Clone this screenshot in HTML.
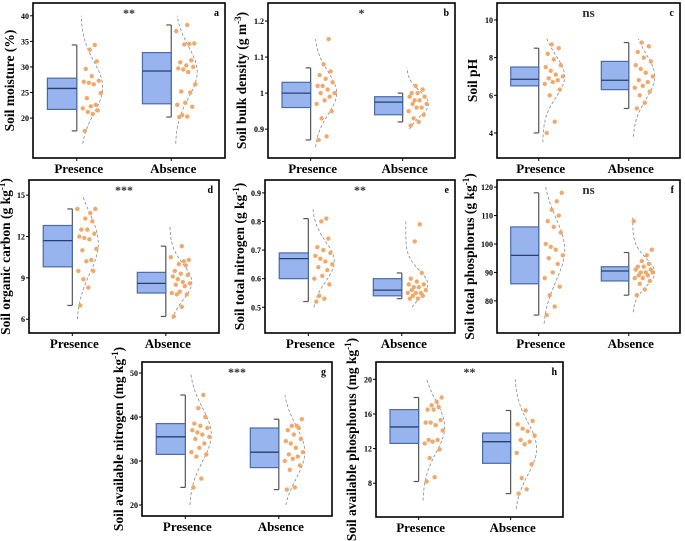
<!DOCTYPE html>
<html><head><meta charset="utf-8"><style>
html,body{margin:0;padding:0;background:#fff}
svg{display:block;font-family:"Liberation Serif",serif}
</style></head><body>
<svg id="fig" width="685" height="541" viewBox="0 0 685 541" xmlns="http://www.w3.org/2000/svg"></svg>
<script>
const groups = ["Presence","Absence"];
const panelIds = ["a","b","c","d","e","f","g","h"];
const sig = ["**","*","ns","***","**","ns","***","**"];
const ticks = {
 a:[20,25,30,35,40], b:[0.9,1.0,1.1,1.2], c:[4,6,8,10], d:[6,9,12,15],
 e:[0.5,0.6,0.7,0.8,0.9], f:[80,90,100,110,120], g:[20,30,40,50], h:[8,12,16,20]
};
// box stats [lo,q1,med,q3,hi] for Presence, Absence
const boxP = {a:[17.5,21.7,25.8,27.8,34.3], b:[0.87,0.96,1.0,1.03,1.07], c:[4.0,6.5,6.85,7.5,8.5], d:[7.0,9.8,11.7,12.8,14.0],
 e:[0.52,0.60,0.67,0.69,0.81], f:[75,86,96,106,118], g:[24,31.5,35.5,38.5,45], h:[8.2,12.6,14.5,16.5,17.9]};
const boxA = {a:[20.2,22.8,29.2,32.8,38.2], b:[0.92,0.94,0.975,0.99,1.0], c:[5.3,6.3,6.8,7.8,8.8], d:[6.2,7.9,8.6,9.4,11.3],
 e:[0.53,0.54,0.56,0.60,0.62], f:[82,87,90.5,92,97], g:[23.5,28.5,32,37.5,39.5], h:[6.8,10.3,12.8,13.8,16.4]};
const ptsP = {
 a:[17.5,20.8,21.2,21.5,21.9,22.3,22.6,23.9,24.9,26.6,26.9,27.1,27.3,28.2,29.6,31.1,33.4,34.3],
 b:[0.87,0.88,0.93,0.95,0.97,0.98,0.99,1.0,1.0,1.01,1.02,1.02,1.03,1.04,1.05,1.06,1.08,1.15],
 c:[4.0,4.6,6.0,6.3,6.6,6.7,6.8,6.9,7.0,7.1,7.3,7.5,7.6,7.9,8.2,8.5,8.7],
 d:[7.0,8.3,8.9,9.5,9.5,10.2,10.3,11.0,11.1,11.8,11.9,12.0,12.2,12.5,12.5,13.1,13.3,13.7,14.0,14.0],
 e:[0.52,0.53,0.54,0.58,0.60,0.61,0.63,0.64,0.65,0.66,0.67,0.68,0.69,0.70,0.71,0.74,0.80,0.81],
 f:[75,78,82,85,88,90,93,95,96,98,99,100,104,106,108,110,112,115,118],
 g:[24,26,31,31.5,32,33,34,35,35.5,36,36.5,37,37.5,38,38.5,40,42,45],
 h:[8.2,8.7,10.9,11.9,12.6,12.8,13.0,13.0,14.1,14.7,15.0,15.0,15.3,16.5,16.5,16.8,17.0,17.4,17.9]};
const ptsA = {
 a:[20.2,20.3,20.6,22.2,22.6,23.0,25.0,25.2,26.6,29.0,29.5,29.7,30.0,30.3,30.9,31.3,34.4,34.5,34.6,37.0,38.2],
 b:[0.91,0.92,0.93,0.94,0.95,0.96,0.96,0.97,0.97,0.98,0.98,0.99,0.99,1.0,1.0,1.01,1.02],
 c:[5.3,5.6,6.0,6.2,6.4,6.5,6.7,6.8,7.0,7.2,7.4,7.6,7.8,8.0,8.3,8.6,8.8],
 d:[6.2,6.9,7.8,7.8,7.9,8.0,8.4,8.5,8.6,8.7,8.9,9.1,9.2,9.3,9.5,9.9,10.0,10.2,10.3,10.5,11.3],
 e:[0.53,0.53,0.54,0.54,0.55,0.55,0.55,0.56,0.56,0.57,0.57,0.58,0.58,0.59,0.60,0.62,0.73,0.79],
 f:[82,84,86,87,88,88,89,89,90,90,90,91,91,92,92,93,94,96,98,108],
 g:[23.5,24,28,29,30,30.5,31,31.5,32,33,34,34.5,35,36,37,37.5,38,38,39.5],
 h:[6.8,7.3,8.6,10.2,11.5,12.5,12.8,13.0,13.5,14.0,14.3,14.8,15.2,16.4]};
// density curve [min,max,mean,sd]
const densP = {a:[15,40,26,5], b:[0.85,1.15,1.0,0.06], c:[3.5,9,7,1.1], d:[6,15,11.5,2.2], e:[0.5,0.85,0.66,0.07], f:[72,120,98,11], g:[20,50,36,6], h:[6,20,14.5,3]};
const densA = {a:[15,40,29,5], b:[0.9,1.07,0.97,0.035], c:[3.8,9,7,1.2], d:[6,12.7,8.7,1.3], e:[0.5,0.8,0.58,0.05], f:[76,110,90,5], g:[20,45,32,6], h:[5,20,12,3]};

const titles = {
 a:["Soil moisture (%)",""], b:["Soil bulk density (g m","-3",")"], c:["Soil pH",""],
 d:["Soil organic carbon (g kg","-1",")"], e:["Soil total nitrogen (g kg","-1",")"], f:["Soil total phosphorus (g kg","-1",")"],
 g:["Soil available nitrogen (mg kg","-1",")"], h:["Soil available phosphorus (mg kg","-1",")"]};
// layout: [left,top,right,bottom, domainMin, domainMax, titleX]
const layout = {
 a:[33,3,225,158,12.2,42.5,14], b:[268,3,455,158,0.82,1.25,246], c:[497,3,680,158,2.67,10.9,477],
 d:[29,180,219,333,5.0,16.1,10], e:[265,180,455,333,0.41,0.945,244], f:[497,180,680,333,68.7,122.5,474],
 g:[142,362,332,516,17.5,52.5,123], h:[376,362,563,517,4.1,22,356]};

const NS="http://www.w3.org/2000/svg";
const svg=document.getElementById('fig');
function mk(tag,attrs,parent){const e=document.createElementNS(NS,tag);for(const k in attrs)e.setAttribute(k,attrs[k]);(parent||svg).appendChild(e);return e;}
function jit(i){return [0.15,0.55,0.3,0.8,0.05,0.45,0.7,0.25,0.95,0.6,0.35,0.1,0.85,0.5,0.2,0.75,0.4,0.65,0.9,0.0,0.55][i%21];}

panelIds.forEach((id,pi)=>{
 const [L,T,R,B,d0,d1,tx]=layout[id];
 const W=R-L;
 const g=mk('g',{});
 
 
 const y=v=>B-(v-d0)/(d1-d0)*(B-T);
 const fr=mk('rect',{x:L,y:T,width:W,height:B-T,fill:'none',stroke:'#000','stroke-width':1.6},g);
 
 
 ticks[id].forEach(t=>{
  mk('line',{x1:L-3,x2:L,y1:y(t),y2:y(t),stroke:'#000','stroke-width':1},g);
  const tl=mk('text',{x:L-4,y:y(t)+3,'text-anchor':'end','font-size':8,'font-weight':'bold'},g);
  tl.textContent=String(t).length<4&&t<2&&t%1!==0?t.toFixed(1):String(t);
  
  
 });
 const yt=mk('text',{transform:`translate(${tx},${(T+B)/2}) rotate(-90)`,'text-anchor':'middle','font-size':13.5,'font-weight':'bold',y:0},g);
 
 
 const tt=titles[id];
 const s1=mk('tspan',{},yt);s1.textContent=tt[0];
 if(tt[1]){const s2=mk('tspan',{dy:-5,'font-size':9},yt);s2.textContent=tt[1];const s3=mk('tspan',{dy:5},yt);s3.textContent=tt[2];}
 const st=mk('text',{x:L+W*0.5,y:T+14,'text-anchor':'middle','font-size':id==='c'||id==='f'?13:12,'font-weight':'bold',fill:'#333'},g);
 st.textContent=sig[pi];
 
 
 const lt=mk('text',{x:R-6,y:T+13,'text-anchor':'end','font-size':10,'font-weight':'bold'},g);
 lt.textContent=id;
 
 
 [[boxP,ptsP,densP,0.075,0.228],[boxA,ptsA,densA,0.57,0.72]].forEach(([bx,pts,dn,f0,f1],gi)=>{
  const s=bx[id];
  const x0=L+W*f0,x1=L+W*f1;
  const wl=mk('line',{x1:x1,x2:x1,y1:y(s[0]),y2:y(s[4]),stroke:'#555','stroke-width':1.2},g);
  
  
  [s[0],s[4]].forEach(v=>mk('line',{x1:x1-5,x2:x1,y1:y(v),y2:y(v),stroke:'#555','stroke-width':1.2},g));
  const br=mk('rect',{x:x0,y:y(s[3]),width:x1-x0,height:y(s[1])-y(s[3]),fill:'#98b4ee',stroke:'#4a6aa8','stroke-width':1.2},g);
  
  
  mk('line',{x1:x0,x2:x1,y1:y(s[2]),y2:y(s[2]),stroke:'#2a3f6a','stroke-width':1.3},g);
  const [mn,mx,mu,sd]=dn[id];
  let d='';
  for(let k=0;k<=40;k++){const v=mn+(mx-mn)*k/40;const off=4+22*Math.exp(-0.5*((v-mu)/sd)**2);d+=(k?'L':'M')+(x1+off).toFixed(1)+','+y(v).toFixed(1);}
  const dp=mk('path',{d:d,fill:'none',stroke:'#888','stroke-width':0.8,'stroke-dasharray':'3,2'},g);
  
  
  pts[id].forEach((v,i)=>{
   const c=mk('circle',{cx:x1+5+jit(i)*20,cy:y(v),r:2.2,fill:'#f2a86a'},g);
   
   
  });
  const xl=mk('text',{x:x1+2,y:B+15,'text-anchor':'middle','font-size':13,'font-weight':'bold'},g);
  xl.textContent=groups[gi];
  
  
  mk('line',{x1:x1,x2:x1,y1:B,y2:B+3,stroke:'#000'},g);
 });
});
</script>
</body></html>
